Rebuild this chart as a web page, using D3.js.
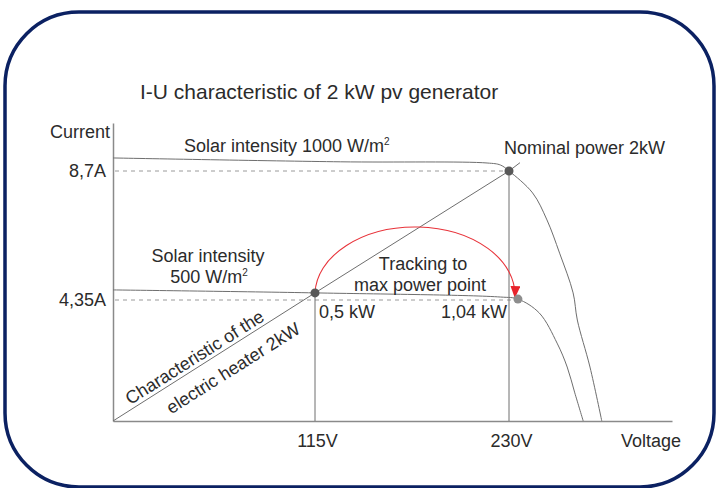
<!DOCTYPE html>
<html><head><meta charset="utf-8">
<script src="https://cdn.jsdelivr.net/npm/d3@7"></script>
<style>
html,body{margin:0;padding:0;background:#fff;}
svg{display:block;font-family:"Liberation Sans",Arial,sans-serif;}
</style>
</head><body>
<svg id="chart" width="716" height="488"></svg>
<script>
// ---- data ----
const chartTitle = "I-U characteristic of 2 kW pv generator";
const xTickValues = [115, 230];
const xTickLabels = ["115V", "230V"];
const yTickValues = [4.35, 8.7];
const yTickLabels = ["4,35A", "8,7A"];

// I-U curve, solar intensity 1000 W/m2 (V, A)
const curve1000V = [0, 130, 217, 225, 230, 244, 252.5, 260, 268, 270.5, 278, 285];
const curve1000I = [9.14, 9.01, 8.97, 8.90, 8.70, 7.96, 7.05, 5.93, 4.59, 3.63, 1.94, 0];
// I-U curve, solar intensity 500 W/m2
const curve500V = [0, 115, 225, 235.3, 248, 258.5, 264.5, 269, 274];
const curve500I = [4.69, 4.59, 4.45, 4.38, 3.88, 2.80, 1.94, 1.01, 0];
// electric heater characteristic (resistive load)
const heaterV = [0, 115, 230, 236.5];
const heaterI = [0, 4.59, 8.70, 8.98];
// operating points
const pointV = [115, 230, 235.3];
const pointI = [4.59, 8.70, 4.38];
const pointLabels = ["0,5 kW", "", "1,04 kW"];

// ---- scales ----
const svg = d3.select("#chart");
const xMax = 230 + (672 - 509) * 115 / 194;
const yMax = 8.7 + (171 - 123) * 4.35 / 129;
const x = d3.scaleLinear().domain([0, 115, 230, xMax]).range([113, 315, 509, 672]);
const y = d3.scaleLinear().domain([0, 4.35, 8.7, yMax]).range([421, 300, 171, 123]);

const textColor = "#2b2b2b";
const lineColor = "#6e6e6e";

// frame
svg.append("rect").attr("x", 5).attr("y", 12).attr("width", 709).attr("height", 475)
  .attr("rx", 74).attr("ry", 74).attr("fill", "none")
  .attr("stroke", "#0b2162").attr("stroke-width", 3.5);

// title
svg.append("text").attr("x", 140).attr("y", 99).attr("font-size", 21)
  .attr("fill", textColor).text(chartTitle);

// axes
const xAxis = d3.axisBottom(x).tickValues(xTickValues)
  .tickFormat((d, i) => xTickLabels[i]).tickSize(0).tickPadding(13);
const gx = svg.append("g").attr("transform", `translate(0,${y(0)})`).call(xAxis);
const yAxis = d3.axisLeft(y).tickValues(yTickValues)
  .tickFormat((d, i) => yTickLabels[i]).tickSize(0).tickPadding(7);
const gy = svg.append("g").attr("transform", `translate(${x(0)},0)`).call(yAxis);
[gx, gy].forEach(g => {
  g.select(".domain").attr("stroke", "#8a8a8a").attr("stroke-width", 1.5);
  g.selectAll("text").attr("font-size", 18).attr("fill", textColor)
    .attr("font-family", '"Liberation Sans",Arial,sans-serif');
});
gx.selectAll(".tick text").attr("dx", 2);

svg.append("text").attr("x", 50).attr("y", 138).attr("font-size", 18)
  .attr("fill", textColor).text("Current");
svg.append("text").attr("x", 621).attr("y", 447).attr("font-size", 18)
  .attr("fill", textColor).text("Voltage");

// dashed guide lines
yTickValues.forEach((v, i) => {
  const endV = i === 0 ? pointV[2] : pointV[1];
  svg.append("line").attr("x1", x(0) + 2).attr("x2", x(endV))
    .attr("y1", y(v)).attr("y2", y(v))
    .attr("stroke", "#9a9a9a").attr("stroke-width", 1).attr("stroke-dasharray", "4,4");
});
// vertical lines at ticks
[[xTickValues[0], pointI[0]], [xTickValues[1], pointI[1]]].forEach(([v, i]) => {
  svg.append("line").attr("x1", x(v)).attr("x2", x(v)).attr("y1", y(i)).attr("y2", y(0))
    .attr("stroke", lineColor).attr("stroke-width", 1);
});

// curves
const mk = (V, I) => V.map((v, k) => [v, I[k]]);
const line = d3.line().x(d => x(d[0])).y(d => y(d[1])).curve(d3.curveCatmullRom.alpha(0.5));
svg.append("path").datum(mk(curve1000V, curve1000I)).attr("d", line)
  .attr("fill", "none").attr("stroke", lineColor).attr("stroke-width", 1);
svg.append("path").datum(mk(curve500V, curve500I)).attr("d", line)
  .attr("fill", "none").attr("stroke", lineColor).attr("stroke-width", 1);
svg.append("path").datum(mk(heaterV, heaterI))
  .attr("d", d3.line().x(d => x(d[0])).y(d => y(d[1])))
  .attr("fill", "none").attr("stroke", lineColor).attr("stroke-width", 1);

// tracking arrow
const defs = svg.append("defs");
defs.append("marker").attr("id", "arr").attr("viewBox", "0 0 12 10")
  .attr("refX", 11).attr("refY", 5).attr("markerWidth", 12).attr("markerHeight", 10)
  .attr("markerUnits", "userSpaceOnUse").attr("orient", "auto")
  .append("path").attr("d", "M0,0 L12,5 L0,10 Z").attr("fill", "#e8242c");
const ax1 = x(pointV[0]), ay1 = y(pointI[0]);
const ax2 = x(pointV[2]) - 3, ay2 = y(pointI[2]) - 2;
svg.append("path")
  .attr("d", `M${ax1},${ay1} A${(ax2 - ax1) / 2},68 0 0 1 ${ax2},${ay2}`)
  .attr("fill", "none").attr("stroke", "#e8333a").attr("stroke-width", 1.1)
  .attr("marker-end", "url(#arr)");

// operating points
const blur = defs.append("filter").attr("id", "soft");
blur.append("feGaussianBlur").attr("stdDeviation", 0.6);
svg.selectAll("circle.pt").data(pointV).enter().append("circle")
  .attr("cx", (d) => x(d)).attr("cy", (d, i) => y(pointI[i])).attr("r", 4.5)
  .attr("fill", (d, i) => i === 2 ? "#8d8d8d" : "#585858").attr("filter", "url(#soft)");

// labels
const lbl = (tx, ty, t, anchor) => svg.append("text").attr("x", tx).attr("y", ty)
  .attr("font-size", 18).attr("fill", textColor).attr("text-anchor", anchor || "start").text(t);
const sup = (el) => el.append("tspan").attr("font-size", 10).attr("dy", -7).text("2");

sup(lbl(184, 152, "Solar intensity 1000 W/m"));
lbl(504, 154, "Nominal power 2kW");
lbl(208, 261.5, "Solar intensity", "middle");
sup(lbl(209, 283, "500 W/m", "middle"));
lbl(423, 269.5, "Tracking to", "middle");
lbl(420, 291, "max power point", "middle");
lbl(x(pointV[0]) + 4, 318, pointLabels[0]);
lbl(x(pointV[1]) - 2, 318, pointLabels[2], "end");

// rotated heater labels
const ang = Math.atan2(y(0) - y(heaterI[2]), x(heaterV[2]) - x(0)) * 180 / Math.PI;
const slope = heaterI[2] / heaterV[2];
const rl = (v, dy, t) => svg.append("text")
  .attr("transform", `translate(${x(v)},${y(v * slope)}) rotate(${-ang})`)
  .attr("y", dy).attr("font-size", 18).attr("fill", textColor)
  .attr("text-anchor", "middle").text(t);
rl(50.3, -6.5, "Characteristic of the");
rl(63.4, 22.5, "electric heater 2kW");
</script>
</body></html>
